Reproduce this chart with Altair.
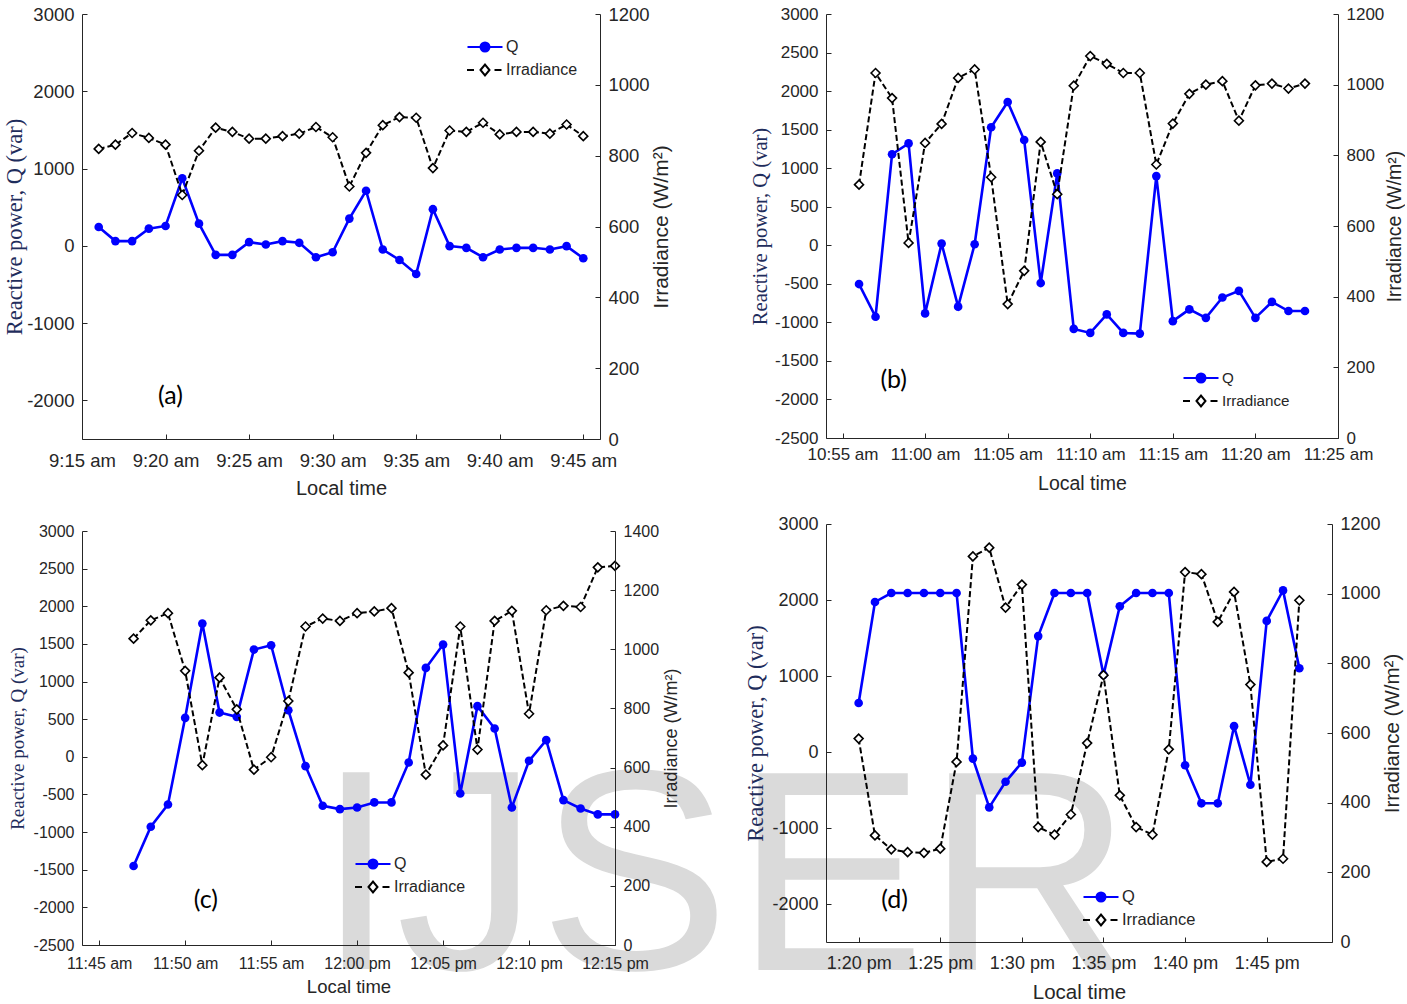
import json
import altair as alt
import pandas as pd

AX = "#262626"
NAVY = "#1f2d5c"
BLUE = "#0000ff"
SERIES = ["Q", "Irradiance"]

# ---------------- data ----------------
a_time = ["9:16", "9:17", "9:18", "9:19", "9:20", "9:21", "9:22", "9:23", "9:24", "9:25",
          "9:26", "9:27", "9:28", "9:29", "9:30", "9:31", "9:32", "9:33", "9:34", "9:35",
          "9:36", "9:37", "9:38", "9:39", "9:40", "9:41", "9:42", "9:43", "9:44", "9:45"]
a_q = [243, 61, 61, 222, 257, 874, 287, -117, -117, 48, 17, 61, 39, -148, -83,
       352, 713, -48, -183, -365, 474, -4, -26, -148, -48, -26, -26, -48, -4, -161]
a_irr = [819, 831, 864, 850, 831, 689, 814, 879, 867, 848, 848, 855, 862, 881, 852,
         713, 808, 886, 909, 907, 765, 871, 867, 893, 860, 867, 867, 862, 888, 855]
a_ticks = ["9:15 am", "9:20 am", "9:25 am", "9:30 am", "9:35 am", "9:40 am", "9:45 am"]

b_time = ["10:56", "10:57", "10:58", "10:59", "11:00", "11:01", "11:02", "11:03", "11:04", "11:05",
          "11:06", "11:07", "11:08", "11:09", "11:10", "11:11", "11:12", "11:13", "11:14", "11:15",
          "11:16", "11:17", "11:18", "11:19", "11:20", "11:21", "11:22", "11:23"]
b_q = [-503, -927, 1181, 1321, -884, 22, -796, 13, 1531, 1859, 1365, -490, 932, -1085,
       -1137, -897, -1137, -1146, 897, -984, -831, -941, -678, -591, -941, -735, -853, -853]
b_irr = [717, 1033, 962, 552, 835, 889, 1019, 1043, 738, 379, 473, 838, 690, 997,
         1081, 1059, 1033, 1033, 774, 890, 974, 1000, 1010, 898, 998, 1003, 989, 1003]
b_ticks = ["10:55 am", "11:00 am", "11:05 am", "11:10 am", "11:15 am", "11:20 am", "11:25 am"]

c_time = ["11:47", "11:48", "11:49", "11:50", "11:51", "11:52", "11:53", "11:54", "11:55", "11:56",
          "11:57", "11:58", "11:59", "12:00", "12:01", "12:02", "12:03", "12:04", "12:05", "12:06",
          "12:07", "12:08", "12:09", "12:10", "12:11", "12:12", "12:13", "12:14", "12:15"]
c_q = [-1451, -929, -633, 518, 1770, 588, 531, 1425, 1482, 619, -124, -650, -695, -673, -606,
       -606, -75, 1181, 1491, -487, 673, 376, -673, -53, 221, -575, -686, -765, -765]
c_irr = [1036, 1098, 1122, 927, 608, 904, 797, 593, 635, 825, 1077, 1104, 1096, 1122, 1128,
         1139, 921, 576, 675, 1077, 661, 1096, 1130, 782, 1132, 1147, 1143, 1277, 1282]
c_ticks = ["11:45 am", "11:50 am", "11:55 am", "12:00 pm", "12:05 pm", "12:10 pm", "12:15 pm"]

d_time = ["13:20", "13:21", "13:22", "13:23", "13:24", "13:25", "13:26", "13:27", "13:28", "13:29",
          "13:30", "13:31", "13:32", "13:33", "13:34", "13:35", "13:36", "13:37", "13:38", "13:39",
          "13:40", "13:41", "13:42", "13:43", "13:44", "13:45", "13:46", "13:47"]
d_q = [645, 1974, 2092, 2092, 2092, 2092, 2092, -87, -728, -392, -139, 1525, 2092, 2092,
       2092, 1015, 1917, 2092, 2092, 2092, -174, -675, -675, 340, -431, 1725, 2126, 1102]
d_irr = [584, 306, 266, 258, 256, 268, 517, 1107, 1132, 960, 1026, 330, 308, 366,
         571, 766, 421, 330, 308, 553, 1062, 1056, 919, 1005, 739, 230, 239, 981]
d_ticks = ["1:20 pm", "1:25 pm", "1:30 pm", "1:35 pm", "1:40 pm", "1:45 pm"]

q_ticks_1000 = [-2000, -1000, 0, 1000, 2000, 3000]
q_ticks_500 = [-2500, -2000, -1500, -1000, -500, 0, 500, 1000, 1500, 2000, 2500, 3000]
irr_ticks_1200 = [0, 200, 400, 600, 800, 1000, 1200]
irr_ticks_1400 = [0, 200, 400, 600, 800, 1000, 1200, 1400]

# legend symbols: line + marker (unit box scaled by sqrt(size)/2)
PATH_Q = "M-1.75,0H1.75M0.45,0A0.45,0.45,0,1,1,-0.45,0A0.45,0.45,0,1,1,0.45,0Z"
PATH_IRR = "M-1.8,0H-1.1M-0.45,0L0,-0.55L0.45,0L0,0.55ZM0.95,0H1.65"


def hm(s):
    h, m = s.split(":")
    return int(h) * 60 + int(m)


def tick_min(label):
    t, ap = label.split(" ")
    h, m = t.split(":")
    hh = int(h) % 12 + (12 if ap == "pm" else 0)
    return hh * 60 + int(m)


def make_panel(time, q, irr, ticks, cfg):
    df = pd.DataFrame({"t": [hm(s) for s in time], "q": q, "irr": irr})
    w, h = cfg["w"], cfg["h"]
    fs = cfg["fs"]
    xv = [tick_min(s) for s in ticks]
    lab = json.dumps(ticks) + "[round((datum.value-%d)/5)]" % xv[0]
    xsc = alt.Scale(domain=cfg["xdom"], nice=False, zero=False)
    qsc = alt.Scale(domain=[-2500, 3000], nice=False, zero=False)
    isc = alt.Scale(domain=cfg["idom"], nice=False, zero=False)

    common_lab = dict(labelFont="Liberation Sans", labelFontSize=fs["tick"], labelColor=AX,
                      labelFlush=False, labelOverlap=False, grid=False, zindex=1)
    ax_x = alt.Axis(values=xv, labelExpr=lab, title="Local time", ticks=False, tickSize=0,
                    domainColor=AX, labelPadding=cfg["xlp"], titleFont="Liberation Sans",
                    titleFontSize=fs["xt"], titleFontWeight="normal", titleColor=AX,
                    titlePadding=cfg["xtp"], orient="bottom", **common_lab)
    tick_only = dict(labels=False, domain=False, grid=False, ticks=True, tickSize=5,
                     tickColor=AX, tickWidth=1, title=None, zindex=1)
    ax_x_in = alt.Axis(orient="top", offset=-h, values=xv, **tick_only)
    ax_q = alt.Axis(orient="left", values=cfg["qticks"], labelExpr="datum.value", ticks=False,
                    tickSize=0, domainColor=AX, labelPadding=cfg["ylp"],
                    title="Reactive power, Q (var)", titleFont="Liberation Serif",
                    titleFontSize=fs["yt"], titleFontWeight="normal", titleColor=NAVY,
                    titlePadding=cfg["ytp"], **common_lab)
    ax_q_in = alt.Axis(orient="right", offset=-w, values=cfg["qticks"], **tick_only)
    ax_i = alt.Axis(orient="right", values=cfg["iticks"], labelExpr="datum.value", ticks=False,
                    tickSize=0, domainColor=AX, labelPadding=cfg["rlp"],
                    title="Irradiance (W/m²)", titleFont="Liberation Sans",
                    titleFontSize=fs["rt"], titleFontWeight="normal", titleColor=AX,
                    titleAngle=270, titleBaseline="top", titlePadding=cfg["rtp"], **common_lab)
    ax_i_in = alt.Axis(orient="left", offset=-w, values=cfg["iticks"], **tick_only)

    base = alt.Chart(df)
    layers = []
    if cfg.get("wm"):
        layers.append(alt.Chart(pd.DataFrame({"s": [cfg["wm"]]})).mark_text(
            font="Liberation Sans", fontSize=286, color="#dadada", align="left",
            baseline="alphabetic").encode(x=alt.value(cfg["wmx"]), y=alt.value(cfg["wmy"]), text="s:N"))
    qline = base.mark_line(color=BLUE, strokeWidth=2.6).encode(
        x=alt.X("t:Q", scale=xsc, axis=ax_x), y=alt.Y("q:Q", scale=qsc, axis=ax_q))
    qpts = base.mark_point(shape="circle", filled=True, size=75, color=BLUE, opacity=1).encode(
        x=alt.X("t:Q", scale=xsc, axis=None), y=alt.Y("q:Q", scale=qsc, axis=ax_q_in))
    lbl = alt.Chart(pd.DataFrame({"s": [cfg["label"]]})).mark_text(
        font="Lato", fontSize=25, color="black").encode(
        x=alt.XDatum(cfg["lx"], scale=xsc, axis=None),
        y=alt.YDatum(cfg["ly"], scale=qsc, axis=None), text="s:N")
    lg = alt.Legend(orient="none", legendX=cfg["legx"], legendY=cfg["legy"], title=None,
                    labelFont="Liberation Sans", labelFontSize=fs["leg"], labelColor=AX,
                    symbolSize=400, symbolStrokeWidth=2, labelOffset=10,
                    rowPadding=cfg["rowpad"], padding=0)
    dummy = alt.Chart(pd.DataFrame({"series": SERIES})).transform_filter("false").mark_point(
        size=400, opacity=1, strokeWidth=2).encode(
        x=alt.value(0), y=alt.value(0),
        shape=alt.Shape("series:N", scale=alt.Scale(domain=SERIES, range=[PATH_Q, PATH_IRR]), legend=lg),
        fill=alt.Fill("series:N", scale=alt.Scale(domain=SERIES, range=[BLUE, "#ffffff"]), legend=lg),
        stroke=alt.Stroke("series:N", scale=alt.Scale(domain=SERIES, range=[BLUE, "#000000"]), legend=lg),
    )
    iline = base.mark_line(color="black", strokeWidth=2, strokeDash=[6, 3]).encode(
        x=alt.X("t:Q", scale=xsc, axis=ax_x_in), y=alt.Y("irr:Q", scale=isc, axis=ax_i))
    ipts = base.mark_point(shape="diamond", filled=True, fill="white", stroke="black",
                           strokeWidth=1.6, size=80, opacity=1).encode(
        x=alt.X("t:Q", scale=xsc, axis=None), y=alt.Y("irr:Q", scale=isc, axis=ax_i_in))
    layers += [qline, qpts, lbl, dummy, iline, ipts]

    return alt.layer(*layers).resolve_scale(x="independent", y="independent").properties(
        width=w, height=h)


cfg_a = dict(w=518, h=425, xdom=[555, 586], idom=[0, 1200], qticks=q_ticks_1000,
             iticks=irr_ticks_1200, fs=dict(tick=18.5, xt=20, yt=22.5, rt=21, leg=16),
             xlp=12, xtp=9, ylp=8, ytp=0, rlp=8, rtp=1, legx=392, legy=22, rowpad=3,
             label="(a)", lx=560.3, ly=-1938)
cfg_b = dict(w=512, h=424, xdom=[654, 685], idom=[0, 1200], qticks=q_ticks_500,
             iticks=irr_ticks_1200, fs=dict(tick=17, xt=19.5, yt=20.5, rt=19.5, leg=15.2),
             xlp=8, xtp=12, ylp=8, ytp=4, rlp=8, rtp=2, legx=364, legy=353, rowpad=3,
             label="(b)", lx=658.1, ly=-1754)
cfg_c = dict(w=533, h=414, xdom=[704, 735], idom=[0, 1400], qticks=q_ticks_500,
             iticks=irr_ticks_1400, fs=dict(tick=16, xt=18.5, yt=19, rt=18, leg=16),
             xlp=10, xtp=6, ylp=8, ytp=6, rlp=8, rtp=4, legx=280, legy=322, rowpad=3,
             label="(c)", lx=711.2, ly=-1900, wm="IJS", wmx=234.5, wmy=438)
cfg_d = dict(w=506, h=418, xdom=[798, 829], idom=[0, 1200], qticks=q_ticks_1000,
             iticks=irr_ticks_1200, fs=dict(tick=18, xt=20.5, yt=22.5, rt=20.5, leg=16.5),
             xlp=12, xtp=10, ylp=8, ytp=4, rlp=8, rtp=2, legx=264, legy=362, rowpad=3,
             label="(d)", lx=802.2, ly=-1950, wm="ER", wmx=-91, wmy=446)

pa = make_panel(a_time, a_q, a_irr, a_ticks, cfg_a)
pb = make_panel(b_time, b_q, b_irr, b_ticks, cfg_b)
pc = make_panel(c_time, c_q, c_irr, c_ticks, cfg_c)
pdd = make_panel(d_time, d_q, d_irr, d_ticks, cfg_d)

res = dict(shape="independent", fill="independent", stroke="independent")
col1 = alt.vconcat(pa, pc, spacing=24).resolve_scale(**res).resolve_legend(**res)
col2 = alt.vconcat(pb, pdd, spacing=22).resolve_scale(**res).resolve_legend(**res)
chart = alt.hconcat(col1, col2, spacing=5).resolve_scale(**res).resolve_legend(**res).properties(
    padding={"left": 3, "top": 5, "right": 0, "bottom": 0}, background="white"
).configure_view(stroke=None)

chart.save("out.html", embed_options={"renderer": "svg", "actions": False})
